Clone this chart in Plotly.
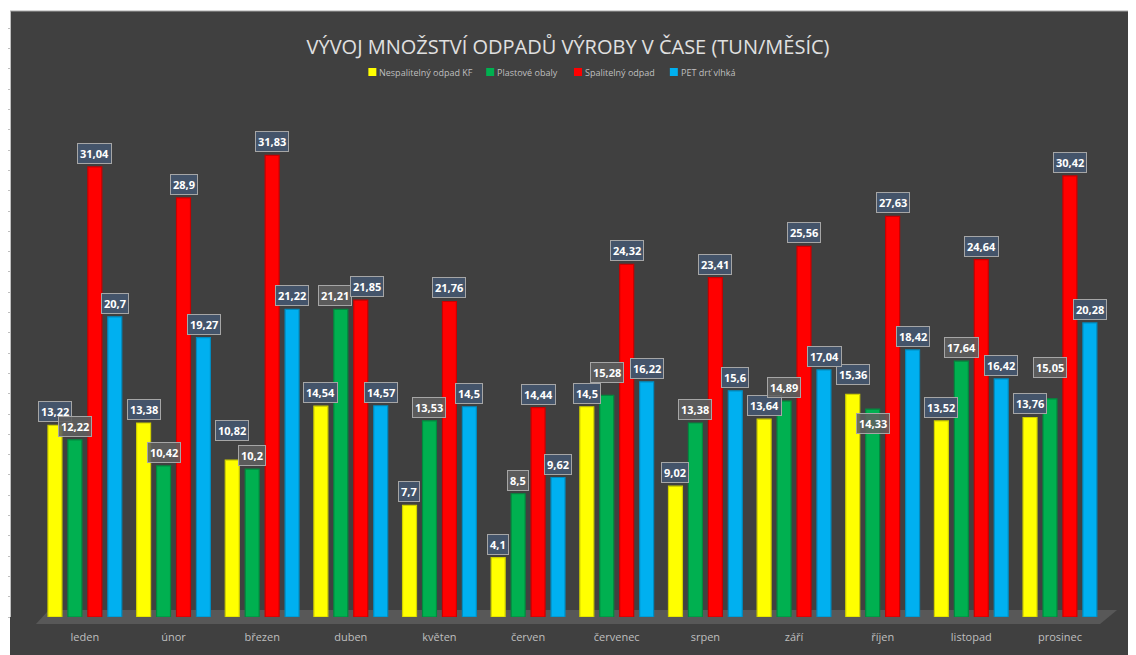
import plotly.graph_objects as go

months = ["leden", "únor", "březen", "duben", "květen", "červen", "červenec",
          "srpen", "září", "říjen", "listopad", "prosinec"]
series_names = ["Nespalitelný odpad KF", "Plastové obaly", "Spalitelný odpad", "PET drť vlhká"]
nespalitelny = [13.22, 13.38, 10.82, 14.54, 7.7, 4.1, 14.5, 9.02, 13.64, 15.36, 13.52, 13.76]
plastove = [12.22, 10.42, 10.2, 21.21, 13.53, 8.5, 15.28, 13.38, 14.89, 14.33, 17.64, 15.05]
spalitelny = [31.04, 28.9, 31.83, 21.85, 21.76, 14.44, 24.32, 23.41, 25.56, 27.63, 24.64, 30.42]
pet = [20.7, 19.27, 21.22, 14.57, 14.5, 9.62, 16.22, 15.6, 17.04, 18.42, 16.42, 20.28]

colors = ["#FFFF00", "#00B050", "#FF0000", "#00B0F0"]
side_colors = ["#CFCF00", "#00893E", "#C80000", "#008CC0"]
label_bg = ["#44546A", "rgba(95,95,95,0.88)", "#44546A", "#44546A"]
all_vals = [nespalitelny, plastove, spalitelny, pet]

# layout geometry (figure pixels; page has 8px body margin)
W, H = 1136, 655
BODY = 8
ml, mt, mr, mb = 1, 3, 0, 46
pw, ph = W - ml - mr, H - mt - mb
px_per_unit = 14.5
ymax = ph / px_per_unit
slot = 20
cat_px = 88.8
a = -(83 - BODY - ml) / cat_px
b = a + pw / cat_px


def px2paper(page_x):
    return (page_x - BODY - ml) / pw


def py2paper(page_y):
    return (H - mb - (page_y - BODY)) / ph


fig = go.Figure()
for i, (name, vals) in enumerate(zip(series_names, all_vals)):
    fig.add_trace(go.Bar(
        x=months, y=vals, name=name, showlegend=False,
        marker=dict(color=colors[i], line=dict(color=side_colors[i], width=1.2)),
        hoverinfo="x+y+name",
    ))


def fmt(v):
    return f"{v:g}".replace(".", ",")


offsets = [-1.5, -0.5, 0.5, 1.5]
# label nudges (dx, dy in px) keyed by (series index, month index)
nudges = {(0, 2): (0, 16), (1, 3): (-6, 0), (2, 3): (6, 0), (1, 6): (0, 9), (0, 9): (0, 6),
          (1, 9): (0, -28), (1, 11): (0, 18)}

annotations = []
for i, vals in enumerate(all_vals):
    for j, v in enumerate(vals):
        dx, dy = nudges.get((i, j), (0, 0))
        annotations.append(dict(
            x=months[j], y=v, xref="x", yref="y",
            text=f"<b>{fmt(v)}</b>", showarrow=False,
            xshift=offsets[i] * slot + dx, yshift=3 + dy, yanchor="bottom",
            font=dict(family="Open Sans", size=11, color="#FFFFFF"),
            bgcolor=label_bg[i], bordercolor="#A6A6A6", borderwidth=1, borderpad=2,
        ))

shapes = [
    dict(type="rect", xref="paper", yref="paper", layer="below",
         x0=px2paper(BODY), x1=px2paper(W + BODY), y0=py2paper(H + BODY), y1=py2paper(11),
         fillcolor="#404040", line=dict(width=0)),
    dict(type="line", xref="paper", yref="paper",
         x0=px2paper(BODY), x1=px2paper(W + BODY), y0=py2paper(11), y1=py2paper(11),
         line=dict(color="#A6A6A6", width=1)),
    dict(type="path", xref="paper", yref="paper", layer="below",
         path=f"M {px2paper(34)},{py2paper(624)} L {px2paper(1100)},{py2paper(624)} "
              f"L {px2paper(1117)},{py2paper(610)} L {px2paper(47)},{py2paper(610)} Z",
         fillcolor="#585858", line=dict(width=0)),
]

# manual legend
legend_x = [367, 485, 573, 669]
legend_y = 72
for i, name in enumerate(series_names):
    shapes.append(dict(type="rect", xref="paper", yref="paper",
                       x0=px2paper(legend_x[i]), x1=px2paper(legend_x[i] + 8),
                       y0=py2paper(legend_y + 4), y1=py2paper(legend_y - 4),
                       fillcolor=colors[i], line=dict(width=0)))
    annotations.append(dict(x=px2paper(legend_x[i] + 9), y=py2paper(legend_y),
                            xref="paper", yref="paper", xanchor="left", yanchor="middle",
                            text=name, showarrow=False,
                            font=dict(family="Open Sans", size=9, color="#BFBFBF")))

fig.update_layout(
    width=W, height=H,
    margin=dict(l=ml, r=mr, t=mt, b=mb),
    paper_bgcolor="#FFFFFF", plot_bgcolor="rgba(0,0,0,0)",
    barmode="group", bargap=0.1, bargroupgap=0.3,
    title=dict(text="VÝVOJ MNOŽSTVÍ ODPADŮ VÝROBY V ČASE (TUN/MĚSÍC)",
               x=px2paper(567), xanchor="center", y=1 - (47 - BODY) / H, yanchor="middle",
               xref="paper",
               font=dict(family="Open Sans", size=20, color="#E0E0E0")),
    xaxis=dict(range=[a, b], showgrid=False, showline=False, ticks="",
               ticklabelstandoff=12,
               tickfont=dict(family="Open Sans", size=11, color="#BFBFBF"),
               fixedrange=True),
    yaxis=dict(range=[0, ymax], showgrid=False, zeroline=False, showticklabels=False,
               showline=True, linecolor="#BFBFBF", linewidth=1,
               ticks="outside", ticklen=3, tickcolor="#BFBFBF", dtick=1.4, tick0=0),
    shapes=shapes,
    annotations=annotations,
    showlegend=False,
)

fig.write_html("out.html")
